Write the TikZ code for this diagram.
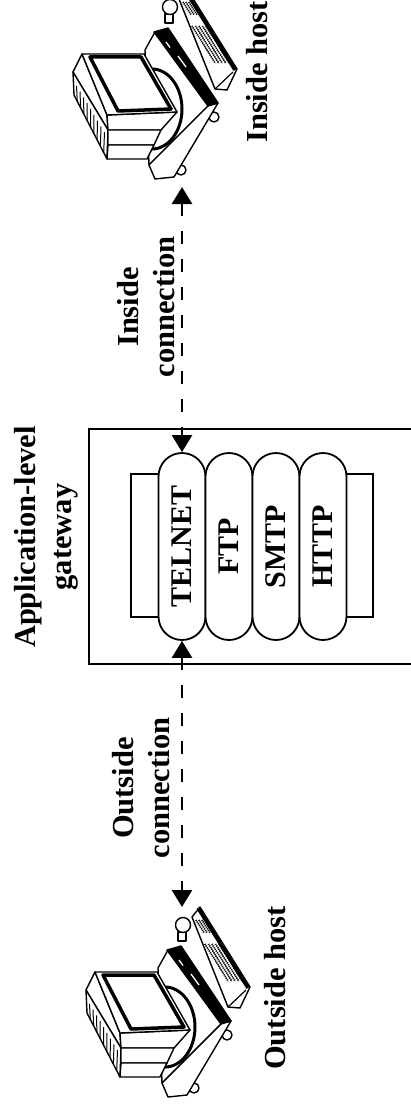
\documentclass[tikz,border=0pt]{standalone}
\usepackage{fontspec}
\setmainfont{Liberation Serif}
\usetikzlibrary{calc,arrows.meta,shapes.misc}
\tikzset{
	lbl/.style={font=\bfseries\fontsize{30.5}{35.5}\selectfont, rotate=90, inner sep=0pt, align=center},
	proto/.style={rounded rectangle, draw, fill=white, line width=1.8pt, rotate=90,
			minimum width=187pt, minimum height=47pt, inner sep=0pt,
			font=\bfseries\fontsize{30}{35}\selectfont},
	conn/.style={line width=2.6pt, dash pattern=on 13pt off 15pt, <->,
			>={Triangle[length=17pt,width=20pt]}},
	part/.style={draw, fill=white, line width=1.4pt, line join=round},
	keyrow/.style={line width=1.8pt, dash pattern=on 0.7pt off 1.3pt},
	computer/.pic={
			\draw[part] (99,-116) circle (5pt);
			\draw[part] (132,-63) circle (5pt);
			\draw[part] (63,4) -- (73,22) -- (127,-51) -- (67,-111) -- cycle;
			\draw[part] (127,-51) -- (136,-49) -- (92,-123) -- (73,-125) -- (67,-111) -- cycle;
			\filldraw[line width=1.4pt, line join=round] (72,22) -- (86,26) -- (136,-49) -- (126,-52) -- cycle;
			\draw[white, line width=1.3pt] (84,12) -- (88,6.5) (96,-2) -- (104,-13);
			\draw[part, line width=3pt] (70,-55) ellipse (30pt and 40pt);
			\draw[part] (-9,-18) -- (0,0) -- (25,-61) -- (26,-76) -- cycle;
			\draw[part] (-9,-18) -- (26,-76) -- (25,-105) -- (-8,-41) -- cycle;
			\foreach \t in {0.1,0.2,...,0.9}
				\draw[line width=1pt] ($(-9,-18)!\t!(26,-76)+(0,-8)$) -- ($(-8,-41)!\t!(25,-105)$);
			\draw[part] (25,-61) -- (95,-58) -- (79,-76) -- (26,-76) -- cycle;
			\draw[part] (0,0) -- (62,0) -- (95,-58) -- (25,-61) -- cycle;
			\draw[part, line width=3.5pt] (8,-3) -- (59,-3) -- (89,-55) -- (36,-57) -- cycle;
			\draw[part] (26,-76) -- (79,-76) -- (72,-91) -- (26,-91) -- cycle;
			\draw[part] (26,-91) -- (72,-91) -- (65,-105) -- (25,-105) -- cycle;
			\draw[part] (97,55) -- (105,65) -- (155,-15) -- (145,-36) -- (133,-35) -- cycle;
			\draw[line width=3.5pt] (103,64) -- (153,-16);
			\draw[line width=1.2pt] (133,-35) -- (151,-18);
			\foreach \j in {0,...,4}{
					\draw[line width=0.5pt] (110+3.5*\j,28) -- ++(23.3,-37.3);
					\draw[keyrow] (110+3.5*\j,28) -- ++(23.3,-37.3);
				}
			\foreach \j in {0,...,3}{
					\draw[line width=0.5pt] (101+3*\j,52) -- ++(8,-12.7);
					\draw[keyrow] (101+3*\j,52) -- ++(8,-12.7);
				}
			\draw[part] (83,40) rectangle (91,31);
			\draw[part] (88,47) circle (7.5pt);
		}
}

\begin{document}
\begin{tikzpicture}[x=1pt, y=1pt]
	\useasboundingbox (0,0) rectangle (411,-1113);
	\clip (0,0) rectangle (411,-1113);

	\node[draw, line width=1.8pt, minimum width=340pt, minimum height=235pt, inner sep=0pt, anchor=north west] (gw) at (88,-428) {};
	\node[draw, fill=white, line width=1.8pt, minimum width=242pt, minimum height=143pt, inner sep=0pt] (stack) at (252,-545.5) {};
	\foreach \name/\txt [count=\i from 0] in {telnet/TELNET, ftp/FTP, smtp/SMTP, http/HTTP}
		\node[proto] (\name) at (182+47*\i,-546.5) {\txt};

	\node[lbl] (title) at (46.5,-537) {Application-level\\gateway};
	\node[lbl] (inlabel) at (146,-307) {Inside\\connection};
	\node[lbl] (outlabel) at (141,-788) {Outside\\connection};

	\pic at (82,-54) {computer};
	\pic at (95,-972) {computer};
	\node[lbl, anchor=base west] (inhostlbl) at (267,-143) {Inside host};
	\node[lbl, anchor=base west] (outhostlbl) at (285,-1070) {Outside host};

	\coordinate (inhost) at (182,-187);
	\coordinate (outhost) at (182,-907);
	\draw[conn] (inhost) -- (telnet.east);
	\draw[conn] (telnet.west) -- (outhost);
\end{tikzpicture}
\end{document}
